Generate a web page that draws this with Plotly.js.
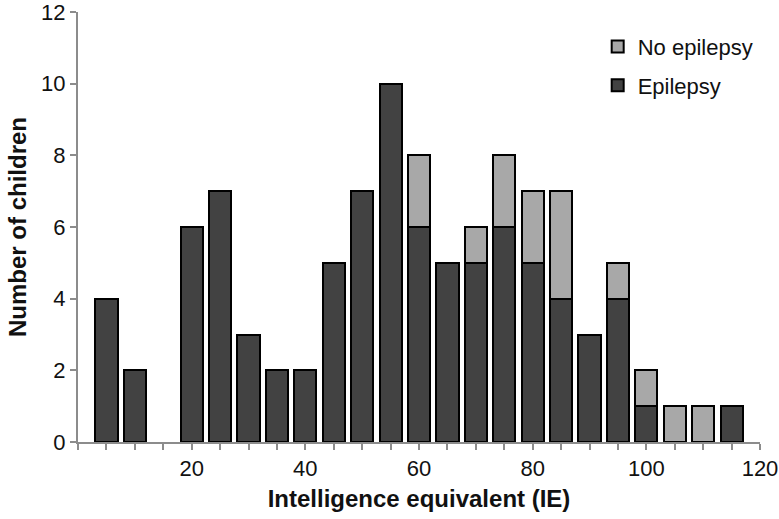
<!DOCTYPE html>
<html>
<head>
<meta charset="utf-8">
<script src="https://cdn.plot.ly/plotly-3.0.1.min.js"></script>
<style>
  html, body { margin: 0; padding: 0; background: #fff; }
  #plot { width: 779px; height: 519px; }
</style>
</head>
<body>
<div id="plot"></div>
<script>
// IE bins (centre of each 5-point band)
var ieBins = [5, 10, 15, 20, 25, 30, 35, 40, 45, 50, 55, 60, 65, 70, 75, 80, 85, 90, 95, 100, 105, 110, 115];
// children with epilepsy (null = no bar)
var epilepsy = [4, 2, null, 6, 7, 3, 2, 2, 5, 7, 10, 6, 5, 5, 6, 5, 4, 3, 4, 1, null, null, 1];
// children without epilepsy
var noEpilepsy = [null, null, null, null, null, null, null, null, null, null, null, 2, null, 1, 2, 2, 3, null, 1, 1, 1, 1, null];

var xTicks = [20, 40, 60, 80, 100, 120];
var yTicks = [0, 2, 4, 6, 8, 10, 12];

var font = 'Liberation Sans, Arial, sans-serif';
var axisGrey = '#8c8c8c';

var traceEp = {
  x: ieBins,
  y: epilepsy,
  type: 'bar',
  name: 'Epilepsy',
  width: 3.9,
  legendgroup: 'ep',
  legendrank: 2,
  marker: { color: '#424242', line: { color: '#000', width: 2 } }
};

var traceNo = {
  x: ieBins,
  y: noEpilepsy,
  type: 'bar',
  name: 'No epilepsy',
  width: 3.9,
  legendgroup: 'no',
  legendrank: 1,
  marker: { color: '#a8a8a8', line: { color: '#000', width: 2 } }
};

var layout = {
  width: 779,
  height: 519,
  barmode: 'stack',
  margin: { l: 78, r: 19, t: 12, b: 77 },
  paper_bgcolor: '#fff',
  plot_bgcolor: '#fff',
  font: { family: font, color: '#111', size: 22 },
  showlegend: true,
  legend: {
    x: 0.762, y: 0.968,
    xanchor: 'left', yanchor: 'top',
    traceorder: 'grouped',
    tracegroupgap: 7,
    font: { size: 22, family: font, color: '#111' },
    bgcolor: 'rgba(0,0,0,0)'
  },
  xaxis: {
    range: [0, 120],
    tickvals: xTicks,
    ticks: 'outside',
    ticklen: 6,
    tickwidth: 2,
    tickcolor: axisGrey,
    minor: { dtick: 5, tick0: 0, ticks: 'outside', ticklen: 6, tickwidth: 2, tickcolor: axisGrey },
    showline: true,
    linecolor: axisGrey,
    linewidth: 2,
    showgrid: false,
    zeroline: false,
    ticklabeloverflow: 'allow',
    tickfont: { size: 22, family: font, color: '#111' },
    title: { text: 'Intelligence equivalent (IE)', font: { size: 24, family: font, color: '#111', weight: 'bold' }, standoff: 10 }
  },
  yaxis: {
    range: [0, 12],
    tickvals: yTicks,
    ticks: 'outside',
    ticklen: 6,
    tickwidth: 2,
    tickcolor: axisGrey,
    showline: true,
    linecolor: axisGrey,
    linewidth: 2,
    showgrid: false,
    zeroline: false,
    ticklabeloverflow: 'allow',
    tickfont: { size: 22, family: font, color: '#111' },
    title: { text: 'Number of children', font: { size: 24, family: font, color: '#111', weight: 'bold' }, standoff: 8 }
  }
};

Plotly.newPlot('plot', [traceEp, traceNo], layout, { displayModeBar: false, staticPlot: true });
</script>
</body>
</html>
